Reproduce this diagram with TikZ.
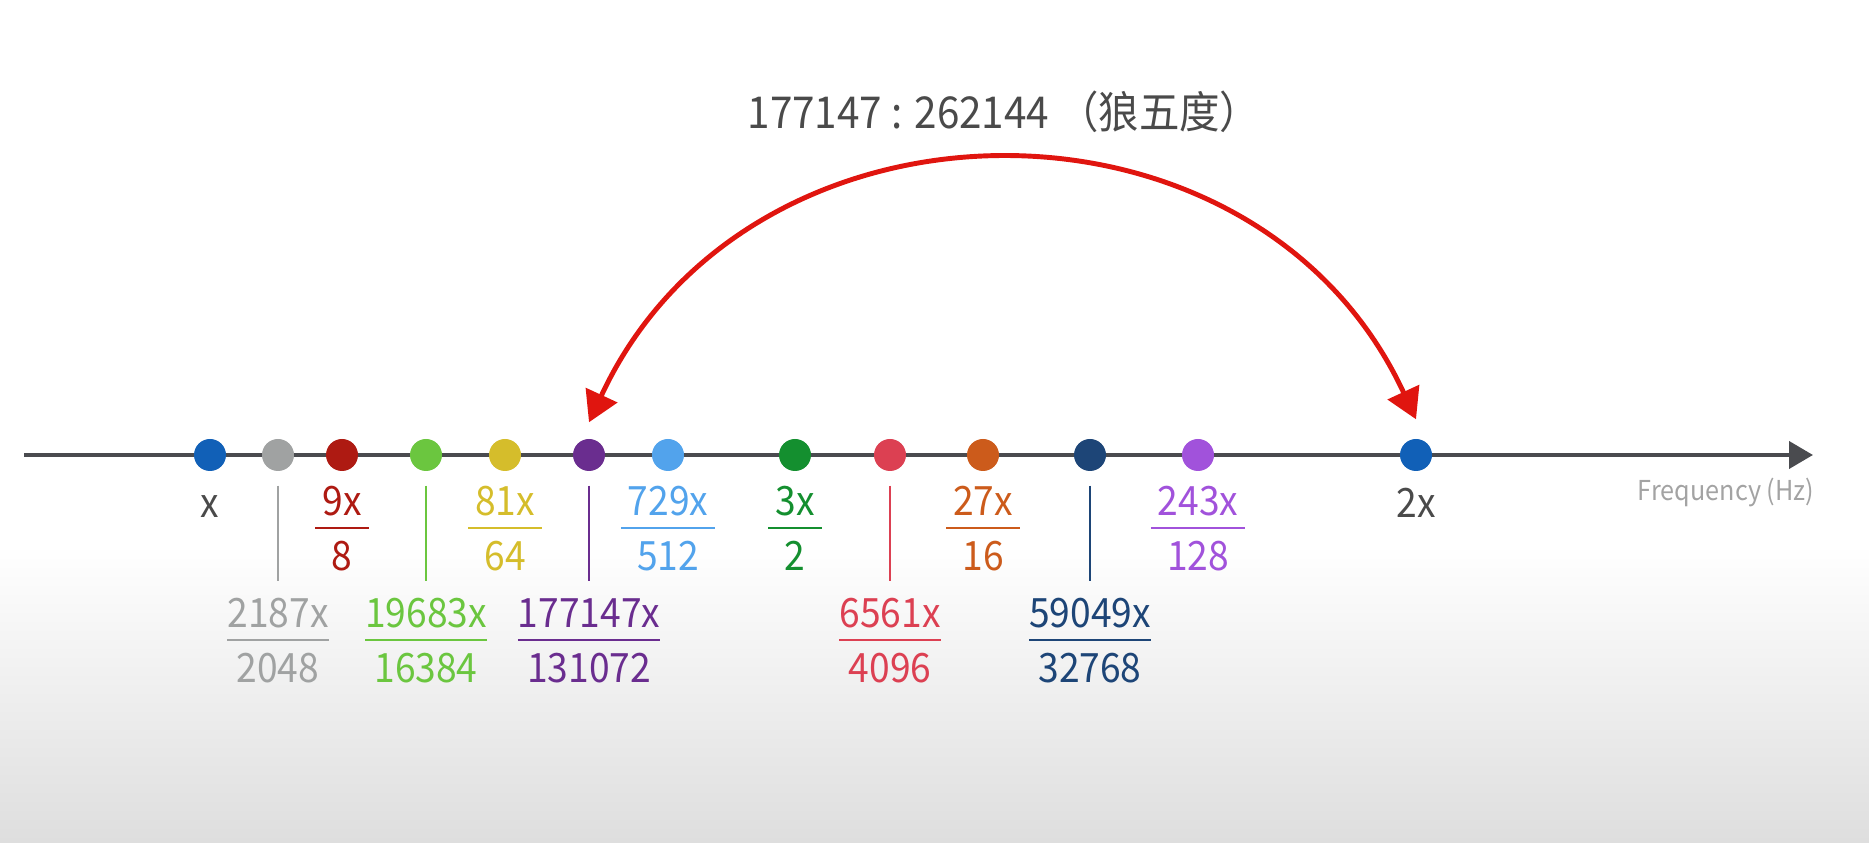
\documentclass[tikz,border=0pt]{standalone}
\usepackage{fontspec}
\setmainfont[FakeStretch=0.92]{Noto Sans CJK SC}
\usetikzlibrary{arrows.meta}

\definecolor{axisgray}{HTML}{4A4B4F}
\definecolor{labelgray}{HTML}{4A4A4A}
\definecolor{freqgray}{HTML}{A3A3A3}
\definecolor{wolfred}{HTML}{E0150F}
\definecolor{cX}{HTML}{1160B7}
\definecolor{cA}{HTML}{A0A2A2}
\definecolor{cB}{HTML}{AE1A12}
\definecolor{cC}{HTML}{6BC63F}
\definecolor{cD}{HTML}{D5BD2B}
\definecolor{cE}{HTML}{6A2D8F}
\definecolor{cF}{HTML}{52A3EC}
\definecolor{cG}{HTML}{148F2F}
\definecolor{cH}{HTML}{DC4052}
\definecolor{cI}{HTML}{CC5B1B}
\definecolor{cJ}{HTML}{1D4577}
\definecolor{cK}{HTML}{A152DB}

% fraction: numerator, rule, denominator
\setlength{\arrayrulewidth}{0.8pt}
\newcommand{\frc}[3][2pt]{\begin{tabular}{@{\hspace{#1}}c@{\hspace{#1}}}#2\\[-1pt]\hline\rule{0pt}{11.6pt}#3\end{tabular}}

\begin{document}
\begin{tikzpicture}[>=Stealth, font=\fontsize{11.5}{14}\selectfont]

\tikzset{
  dot/.style={circle, fill=#1, inner sep=0pt, minimum size=0.32cm},
  lbl/.style={inner sep=0pt, text=#1},
  tick/.style={draw=#1, line width=0.6pt},
  axis/.style={-{Triangle[length=0.24cm, width=0.27cm]}, line width=1.15pt, axisgray},
  wolf/.style={{Triangle[length=0.3cm, width=0.34cm]}-{Triangle[length=0.3cm, width=0.34cm]}, line width=1.4pt, wolfred}
}

% --- Fundo ---
\useasboundingbox (0,-3.88) rectangle (18.69,4.55);
\shade[top color=white, bottom color=black!13] (0,-3.88) rectangle (18.69,-0.9);

% --- Eixo ---
\coordinate (start) at (0.24,0);
\coordinate (end) at (18.13,0);
\draw[axis] (start) -- (end);
\node[lbl=freqgray, anchor=east, font=\fontsize{7.8}{9}\selectfont] (freq) at (18.15,-0.38) {Frequency (Hz)};

% --- Pontos ---
\node[dot=cX] (r1) at (2.10,0) {};
\node[dot=cA] (r2187) at (2.78,0) {};
\node[dot=cB] (r9) at (3.42,0) {};
\node[dot=cC] (r19683) at (4.26,0) {};
\node[dot=cD] (r81) at (5.05,0) {};
\node[dot=cE] (r177147) at (5.89,0) {};
\node[dot=cF] (r729) at (6.68,0) {};
\node[dot=cG] (r3) at (7.95,0) {};
\node[dot=cH] (r6561) at (8.90,0) {};
\node[dot=cI] (r27) at (9.83,0) {};
\node[dot=cJ] (r59049) at (10.90,0) {};
\node[dot=cK] (r243) at (11.98,0) {};
\node[dot=cX] (r2) at (14.16,0) {};

% --- Rotulos de cima ---
\node[lbl=labelgray, anchor=base] (l1) at (2.10,-0.63) {x};
\node[lbl=cB] (f9) at (3.42,-0.78) {\frc{9x}{8}};
\node[lbl=cD] (f81) at (5.05,-0.78) {\frc{81x}{64}};
\node[lbl=cF] (f729) at (6.68,-0.78) {\frc{729x}{512}};
\node[lbl=cG] (f3) at (7.95,-0.78) {\frc{3x}{2}};
\node[lbl=cI] (f27) at (9.83,-0.78) {\frc{27x}{16}};
\node[lbl=cK] (f243) at (11.98,-0.78) {\frc{243x}{128}};
\node[lbl=labelgray, anchor=base] (l2) at (14.16,-0.63) {2x};

% --- Rotulos de baixo ---
\node[lbl=cA] (f2187) at (2.78,-1.90) {\frc[0pt]{2187x}{2048}};
\node[lbl=cC] (f19683) at (4.26,-1.90) {\frc[0pt]{19683x}{16384}};
\node[lbl=cE] (f177147) at (5.89,-1.90) {\frc[0pt]{177147x}{131072}};
\node[lbl=cH] (f6561) at (8.90,-1.90) {\frc[0pt]{6561x}{4096}};
\node[lbl=cJ] (f59049) at (10.90,-1.90) {\frc[0pt]{59049x}{32768}};

\draw[tick=cA] ([yshift=-0.14cm]r2187.south) -- ([yshift=0.11cm]f2187.north);
\draw[tick=cC] ([yshift=-0.14cm]r19683.south) -- ([yshift=0.11cm]f19683.north);
\draw[tick=cE] ([yshift=-0.14cm]r177147.south) -- ([yshift=0.11cm]f177147.north);
\draw[tick=cH] ([yshift=-0.14cm]r6561.south) -- ([yshift=0.11cm]f6561.north);
\draw[tick=cJ] ([yshift=-0.14cm]r59049.south) -- ([yshift=0.11cm]f59049.north);

% --- Quinta do lobo ---
\node[lbl=labelgray, font=\fontsize{12.5}{15}\selectfont] (title) at (10.04,3.43) {177147 : 262144 （狼五度）};
\draw[wolf] ([yshift=0.16cm]r177147.north) .. controls +(1.6,3.45) and +(-1.6,3.45) .. ([yshift=0.19cm]r2.north);

\end{tikzpicture}
\end{document}
